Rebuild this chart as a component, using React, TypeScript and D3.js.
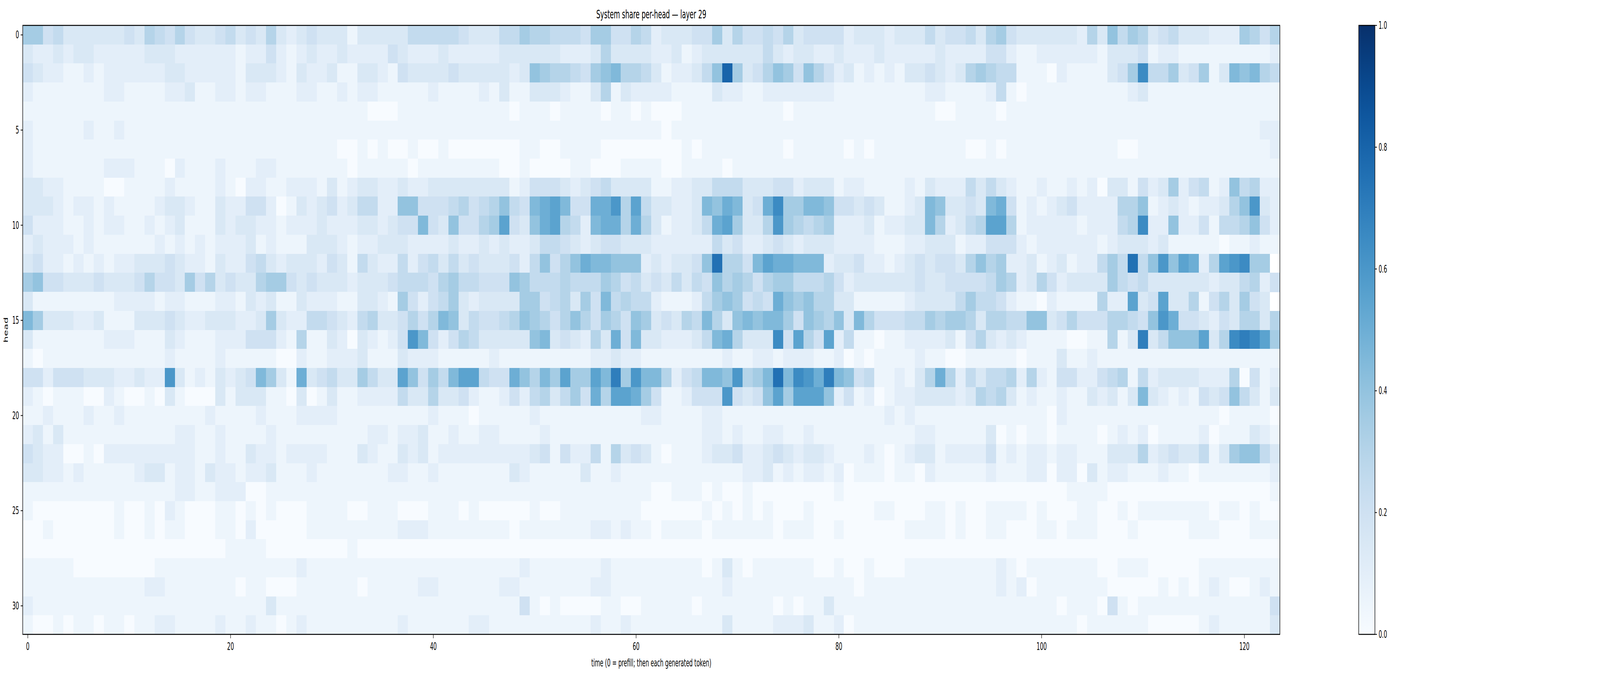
import React, { useEffect, useRef } from "react";
import * as d3 from "d3";

// each char = value * 20 (base 36), 4 chunks of 31 time steps per head
const headRows: string[][] = [
  ["7745333333436546433453436323433", "3133333555554333557665554774465", "2333447364454634444233323335344", "5367433333326385763453332227646"],
  ["3223233222223332222221224212322", "3222243222322222333333222363333", "2231233333353233223222322222322", "2244211222222133341221111111112"],
  ["4322112122222233222221333213223", "1133214333343333323876654789665", "3122358g73468748642312121334323", "67655111021111347d5573471398965"],
  ["2111111122111122311221221112211", "2122111112111121311333211361322", "2211113221122222221111111112211", "1125101111111111231111111111111"],
  ["1111111111111111111111111111111", "1110001111111111101110111101101", "0001111111111011111111111111001", "1110111111111111111111111111111"],
  ["2111112112111111111111111111111", "1111111111111111111111111111111", "1011111111111111111111111111111", "1111111111111111111111111111122"],
  ["2111111111111111111111111111111", "0010100100100000001100111100000", "0001011111111011111010111111111", "0010111111111110011111111111112"],
  ["2111111122211102111211122111111", "1011111011111111001000011000111", "1001111011111111111111111111111", "1111111111111111111111111111111"],
  ["3322111100111121111210221122213", "1233223223333333312444323453333", "1122335553334423331221111213222", "5353211211212033142372451285622"],
  ["3332122121111233211322442013234", "23552288444564568549ab944aac6b5", "3322398a934ad779984434311239833", "439a412123422226681232122368c32"],
  ["4222112122112123111323322122232", "2233234494384467b438ab6529aa6a6", "312235ab7336c765672223122339623", "56bb6122222122256d2282241556842"],
  ["2322212111111212121222312111333", "2122333222232232322355432344333", "2222225342234323332222111223331", "2244421222222123332311111011211"],
  ["3422121212233343221322453233324", "31532252453534333425 8468a99888", "2323348f6649baa9992334221234344", "36867223123122575f58c8ba26bcd77"],
  ["7844333433346443746343367743433", "3233345554675544487555655576453", "4353548676467755564233333343344", "4457623642333375453333332335624"],
  ["3111111112222122111221323113222", "1133217424573233337745637495655", "211125787454a8786633111112333 3", "57554211021111622b34b3361463743"],
  ["9733322311133343223332237322554", "3256334646983544568764686476487", "3436596389899748768396444557677", "636655883464446654 8ca4432436636"],
  ["3111111122211132111222444216113", "2032124c9424653333389343263a493", "3222359a6333d4b64b2511011222231", "46323211110011613e35888b36dedb7"],
  ["1011111111111121111211111002112", "2231113222111112111111111223221", "1111111211221222112010111121100", "1111101113112111111111111111111"],
  ["44244433322322c312132349731a345", "337533b84759bb544a8697b77b9e7c9", "96245998c679f9dcae9845112136a62", "5355626214422456152333322260412"],
  ["2101110021001031000313331103013", "1122225336334211242563574a6bba7", "4112444c4348b7bbb82412012233332", "3656312112113231393212143485313"],
  ["1121112112111111112111121112222", "1111111112111011111211111111112", "2111122111111111111111121211111", "1111111102111111111111111011110"],
  ["2313111111111112211211112111111", "1112212231121122111121111111111", "1111122121122112111111111122111", "1130101101111012120111120111321"],
  ["4322001022222222211211322122221", "1132113231222222222341422516343", "1011123342234323321112101233122", "2241212212211133362343351378853"],
  ["3322121111123312213221223111211", "1111122112111111132111113112111", "1111111112231212212011101102111", "1121112202203122111211011111112"],
  ["1111111111111112211222001111111", "1111111111111111111111111111111", "0011101001000000001000000000000", "0000000000111100000000000000001"],
  ["1000000001001021000110101000111", "1001110001110100000100111111110", "0000010101010001000000110001101", "0011110100011001011111110110100"],
  ["0010000001001011000110200000111", "1111112221111111101111111221211", "0111101111110111001000000111101", "0011000110111000100000111000111"],
  ["0000000000000000000011110000000", "0100000000000000000000000000000", "0000000000000000000000000000000", "0000000000000000000000000000000"],
  ["1111100000000111111111111112111", "1111111111111111112111111121111", "1111101310111111001001000111111", "1112101111111001110000011111111"],
  ["1111111111112211111110110001111", "1101111122111111221111111221111", "1111111211111111111101111111111", "1112120111111100000101012100121"],
  ["2111111111111111111111113111111", "1111111111111111114101000011001", "1111011111110101131111111111111", "1111111110111041011111111111114"],
  ["1001011011011221111211211012111", "1111112111111221111111111211211", "1111111311112223112011111111111", "1111111111101111110000012111113"],
];

const grid: number[][] = headRows.map((chunks) =>
  chunks
    .join("")
    .replace(/\s/g, "")
    .split("")
    .map((c) => parseInt(c, 36) / 20)
);

const nTime = 124;
const nHead = 32;
const xTicks = [0, 20, 40, 60, 80, 100, 120];
const yTicks = [0, 5, 10, 15, 20, 25, 30];
const cbTicks = [0, 0.2, 0.4, 0.6, 0.8, 1.0];

const W = 7812;
const H = 1728;
const plot = { left: 111, right: 6249, top: 65, bottom: 1624 };
const cb = { left: 6634, right: 6713 };
const font = "DejaVu Sans, sans-serif";

const App: React.FC = () => {
  const svgRef = useRef<SVGSVGElement>(null);

  useEffect(() => {
    const svg = d3.select(svgRef.current);
    svg.html("");

    const x = d3.scaleLinear().domain([-0.5, nTime - 0.5]).range([plot.left, plot.right]);
    const y = d3.scaleLinear().domain([-0.5, nHead - 0.5]).range([plot.top, plot.bottom]);
    const color = (v: number) => d3.interpolateBlues(Math.max(0, Math.min(1, v)));

    const cellW = x(1) - x(0);
    const cellH = y(1) - y(0);

    const cells = grid.flatMap((row, h) =>
      row.slice(0, nTime).map((v, t) => ({ h, t, v }))
    );

    svg
      .append("g")
      .selectAll("rect")
      .data(cells)
      .join("rect")
      .attr("x", (d) => x(d.t - 0.5))
      .attr("y", (d) => y(d.h - 0.5))
      .attr("width", cellW + 0.6)
      .attr("height", cellH + 0.6)
      .attr("fill", (d) => color(d.v))
      .attr("shape-rendering", "crispEdges");

    // frame
    svg
      .append("rect")
      .attr("x", plot.left)
      .attr("y", plot.top)
      .attr("width", plot.right - plot.left)
      .attr("height", plot.bottom - plot.top)
      .attr("fill", "none")
      .attr("stroke", "#000")
      .attr("stroke-width", 2.5);

    const tickLen = 10;
    const fs = 26;

    const xt = svg.append("g");
    xTicks.forEach((t) => {
      xt.append("line")
        .attr("x1", x(t)).attr("x2", x(t))
        .attr("y1", plot.bottom).attr("y2", plot.bottom + tickLen)
        .attr("stroke", "#000").attr("stroke-width", 2);
      xt.append("text")
        .attr("x", x(t)).attr("y", plot.bottom + tickLen + 30)
        .attr("text-anchor", "middle")
        .attr("font-family", font).attr("font-size", fs)
        .text(t);
    });

    const yt = svg.append("g");
    yTicks.forEach((t) => {
      yt.append("line")
        .attr("x1", plot.left - tickLen).attr("x2", plot.left)
        .attr("y1", y(t)).attr("y2", y(t))
        .attr("stroke", "#000").attr("stroke-width", 2);
      yt.append("text")
        .attr("x", plot.left - tickLen - 8).attr("y", y(t))
        .attr("dy", "0.35em")
        .attr("text-anchor", "end")
        .attr("font-family", font).attr("font-size", fs)
        .text(t);
    });

    svg.append("text")
      .attr("x", (plot.left + plot.right) / 2).attr("y", plot.bottom + 82)
      .attr("text-anchor", "middle")
      .attr("font-family", font).attr("font-size", fs)
      .text("time (0 = prefill; then each generated token)");

    svg.append("text")
      .attr("transform", `translate(${plot.left - 72},${(plot.top + plot.bottom) / 2}) rotate(-90)`)
      .attr("text-anchor", "middle")
      .attr("font-family", font).attr("font-size", fs)
      .text("head");

    svg.append("text")
      .attr("x", (plot.left + plot.right) / 2).attr("y", plot.top - 18)
      .attr("text-anchor", "middle")
      .attr("font-family", font).attr("font-size", 31)
      .text("System share per-head — layer 29");

    // colorbar
    const defs = svg.append("defs");
    const grad = defs.append("linearGradient")
      .attr("id", "cbgrad")
      .attr("x1", 0).attr("y1", 1).attr("x2", 0).attr("y2", 0);
    d3.range(0, 1.0001, 0.05).forEach((s) => {
      grad.append("stop").attr("offset", s).attr("stop-color", color(s));
    });
    const cy = d3.scaleLinear().domain([0, 1]).range([plot.bottom, plot.top]);
    svg.append("rect")
      .attr("x", cb.left).attr("y", plot.top)
      .attr("width", cb.right - cb.left).attr("height", plot.bottom - plot.top)
      .attr("fill", "url(#cbgrad)")
      .attr("stroke", "#000").attr("stroke-width", 2.5);
    cbTicks.forEach((t) => {
      svg.append("line")
        .attr("x1", cb.right).attr("x2", cb.right + tickLen)
        .attr("y1", cy(t)).attr("y2", cy(t))
        .attr("stroke", "#000").attr("stroke-width", 2);
      svg.append("text")
        .attr("x", cb.right + tickLen + 8).attr("y", cy(t))
        .attr("dy", "0.35em")
        .attr("font-family", font).attr("font-size", fs)
        .text(t.toFixed(1));
    });
  }, []);

  return (
    <svg
      ref={svgRef}
      viewBox={`0 0 ${W} ${H}`}
      preserveAspectRatio="none"
      style={{ position: "fixed", left: 0, top: 0, width: "100vw", height: "100vh", background: "#fff" }}
    />
  );
};

export default App;
